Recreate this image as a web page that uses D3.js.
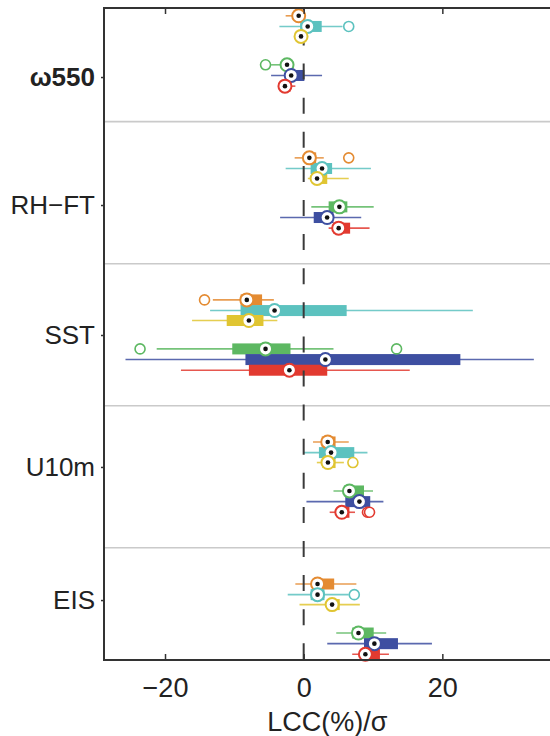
<!DOCTYPE html>
<html>
<head>
<meta charset="utf-8">
<script src="https://cdn.jsdelivr.net/npm/d3@7"></script>
<style>
    body { margin: 0; background: #fff; }
    text { font-family: "Liberation Sans", Arial, Helvetica, sans-serif; fill: #222; }
</style>
</head>
<body>
<div id="visual"></div>
<script>
var w = 550, h = 736;

// predictors (rows of the figure) and where their labels sit on the y axis
var predictors = ["ω550", "RH−FT", "SST", "U10m", "EIS"];
var labelPos = [0.686, 1.587, 2.502, 3.431, 4.368];

// six series inside each predictor group
var colors = ["#E48B32", "#5CC2BF", "#E0C532", "#5DB862", "#3E4FA1", "#E23A30"];
var rowOffset = [0.255, 0.33, 0.40, 0.60, 0.675, 0.75];

// per predictor, per series: whisker low, q1, median, q3, whisker high
var whiskerLo = [
    [-2.6, -3.5, -1.4, -4.7, -4.7, -3.6],
    [-1.3, -2.6, 0.6, 1.1, -3.4, 3.6],
    [-13.1, -13.5, -16.1, -21.2, -25.7, -17.7],
    [1.35, 0.0, 1.9, 4.3, 0.4, 3.75],
    [-1.2, -2.3, -0.6, 4.7, 3.4, 7.0]
];
var q1 = [
    [-1.3, -0.5, -0.9, -3.0, -2.2, -3.2],
    [0.2, 1.0, 1.2, 3.6, 1.45, 4.3],
    [-9.1, -9.1, -11.1, -10.3, -8.4, -7.9],
    [2.6, 2.2, 2.7, 5.8, 6.0, 4.8],
    [1.45, 1.0, 3.6, 7.0, 8.7, 8.2]
];
var medians = [
    [-0.72, 0.58, -0.38, -2.4, -1.8, -2.7],
    [0.82, 2.65, 1.93, 5.15, 3.38, 5.05],
    [-8.2, -4.2, -7.9, -5.5, 3.13, -2.06],
    [3.47, 3.95, 3.5, 6.6, 8.04, 5.5],
    [2.0, 2.0, 4.1, 7.9, 10.2, 8.9]
];
var q3 = [
    [0.0, 2.6, 0.1, -1.8, 0.1, -1.9],
    [1.8, 4.1, 3.4, 6.3, 4.3, 6.7],
    [-6.0, 6.2, -5.8, -1.9, 22.6, 3.4],
    [4.6, 7.3, 4.6, 8.7, 9.6, 6.6],
    [4.4, 3.0, 5.2, 10.1, 13.6, 11.0]
];
var whiskerHi = [
    [0.3, 5.6, 0.3, -1.5, 2.65, -1.2],
    [2.9, 9.7, 6.5, 10.1, 8.3, 9.5],
    [-4.3, 24.4, -3.8, 4.3, 33.2, 15.3],
    [6.5, 9.2, 5.8, 10.0, 11.5, 7.4],
    [7.6, 6.5, 8.1, 11.9, 18.5, 12.3]
];
var outliers = [
    [[], [6.5], [], [-5.5], [], []],
    [[6.5], [], [], [], [], []],
    [[-14.3], [], [], [-23.6, 13.4], [], []],
    [[], [], [7.1], [], [], [9.2, 9.5]],
    [[], [7.3], [], [], [], []]
];

var xTicks = [-20, 0, 20];

var plotLeft = 104, plotTop = 8, plotBottom = 660;
var svg = d3.select("#visual").append("svg")
    .attr("width", w)
    .attr("height", h);

var x = d3.scaleLinear().domain([-28.8, 40]).range([plotLeft, 581]);
var y = d3.scaleLinear().domain([0.2, 4.79]).range([plotTop, plotBottom]);

function buildRows() {
    var rows = [];
    predictors.forEach(function(p, g) {
        colors.forEach(function(c, s) {
            rows.push({
                group: g, series: s, color: c,
                pos: g + rowOffset[s],
                lo: whiskerLo[g][s], q1: q1[g][s], med: medians[g][s],
                q3: q3[g][s], hi: whiskerHi[g][s], out: outliers[g][s]
            });
        });
    });
    return rows;
}

var rows = buildRows();
var plot = svg.append("g");

// group separators
plot.selectAll(".sep")
    .data([1, 2, 3, 4])
    .enter().append("line")
    .attr("class", "sep")
    .attr("x1", plotLeft).attr("x2", w)
    .attr("y1", function(d) { return y(d); })
    .attr("y2", function(d) { return y(d); })
    .attr("stroke", "#cacaca")
    .attr("stroke-width", 1.6);

// whiskers
plot.selectAll(".whisker")
    .data(rows)
    .enter().append("line")
    .attr("class", "whisker")
    .attr("x1", function(d) { return x(d.lo); })
    .attr("x2", function(d) { return x(d.hi); })
    .attr("y1", function(d) { return y(d.pos); })
    .attr("y2", function(d) { return y(d.pos); })
    .attr("stroke", function(d) { return d.color; })
    .attr("stroke-opacity", 0.85)
    .attr("stroke-width", 1.6);

// interquartile boxes
plot.selectAll(".box")
    .data(rows)
    .enter().append("rect")
    .attr("class", "box")
    .attr("x", function(d) { return x(d.q1); })
    .attr("width", function(d) { return x(d.q3) - x(d.q1); })
    .attr("y", function(d) { return y(d.pos) - 5.5; })
    .attr("height", 11)
    .attr("fill", function(d) { return d.color; });

// zero line
plot.append("line")
    .attr("x1", x(0)).attr("x2", x(0))
    .attr("y1", plotTop).attr("y2", plotBottom)
    .attr("stroke", "#3a3a3a")
    .attr("stroke-width", 2)
    .attr("stroke-dasharray", "16,18.1")
    .attr("stroke-dashoffset", 12.6);

// outliers
var outPts = [];
rows.forEach(function(r) {
    r.out.forEach(function(v) {
        outPts.push({ v: v, pos: r.pos, color: r.color });
    });
});
plot.selectAll(".outlier")
    .data(outPts)
    .enter().append("circle")
    .attr("class", "outlier")
    .attr("cx", function(d) { return x(d.v); })
    .attr("cy", function(d) { return y(d.pos); })
    .attr("r", 5)
    .attr("fill", "#fff")
    .attr("stroke", function(d) { return d.color; })
    .attr("stroke-width", 1.6);

// medians
var med = plot.selectAll(".median")
    .data(rows)
    .enter().append("g")
    .attr("class", "median")
    .attr("transform", function(d) {
        return "translate(" + x(d.med) + "," + y(d.pos) + ")";
    });
med.append("circle")
    .attr("r", 6.5)
    .attr("fill", "#fff")
    .attr("stroke", function(d) { return d.color; })
    .attr("stroke-width", 2);
med.append("circle")
    .attr("r", 2.3)
    .attr("fill", "#111");

// axes frame
var frame = svg.append("g");
frame.append("line")
    .attr("x1", plotLeft).attr("x2", w).attr("y1", plotTop).attr("y2", plotTop)
    .attr("stroke", "#333").attr("stroke-width", 2);
frame.append("line")
    .attr("x1", plotLeft).attr("x2", plotLeft).attr("y1", plotTop - 1).attr("y2", plotBottom + 1)
    .attr("stroke", "#333").attr("stroke-width", 2);

var xAxis = svg.append("g")
    .attr("transform", "translate(0," + plotBottom + ")")
    .call(d3.axisBottom(x).tickValues(xTicks).tickSizeInner(-6).tickSizeOuter(0).tickPadding(18));
xAxis.select(".domain")
    .attr("d", "M" + plotLeft + ",0H" + w)
    .attr("stroke", "#333").attr("stroke-width", 2);
xAxis.selectAll(".tick line").attr("stroke", "#333").attr("stroke-width", 1.5);
xAxis.selectAll("text").attr("font-size", 27).attr("fill", "#222")
    .style("font-family", "'Liberation Sans', Arial, sans-serif");

var xTop = svg.append("g")
    .attr("transform", "translate(0," + plotTop + ")")
    .call(d3.axisTop(x).tickValues(xTicks).tickSizeInner(-6).tickSizeOuter(0).tickFormat(""));
xTop.select(".domain").remove();
xTop.selectAll(".tick line").attr("stroke", "#333").attr("stroke-width", 1.5);

var yAxis = svg.append("g")
    .attr("transform", "translate(" + plotLeft + ",0)")
    .call(d3.axisLeft(y).tickValues(labelPos).tickSize(3).tickPadding(6)
        .tickFormat(function(d, i) { return predictors[i]; }));
yAxis.select(".domain").remove();
yAxis.selectAll(".tick line").attr("stroke", "#333").attr("stroke-width", 1.5);
yAxis.selectAll("text")
    .attr("font-size", 26)
    .attr("fill", "#222")
    .attr("font-weight", function(d, i) { return i === 0 ? "bold" : "normal"; })
    .style("font-family", "'Liberation Sans', Arial, sans-serif");

svg.append("text")
    .attr("x", x(3.4))
    .attr("y", 731)
    .attr("text-anchor", "middle")
    .attr("font-size", 27)
    .text("LCC(%)/σ");
</script>
</body>
</html>
